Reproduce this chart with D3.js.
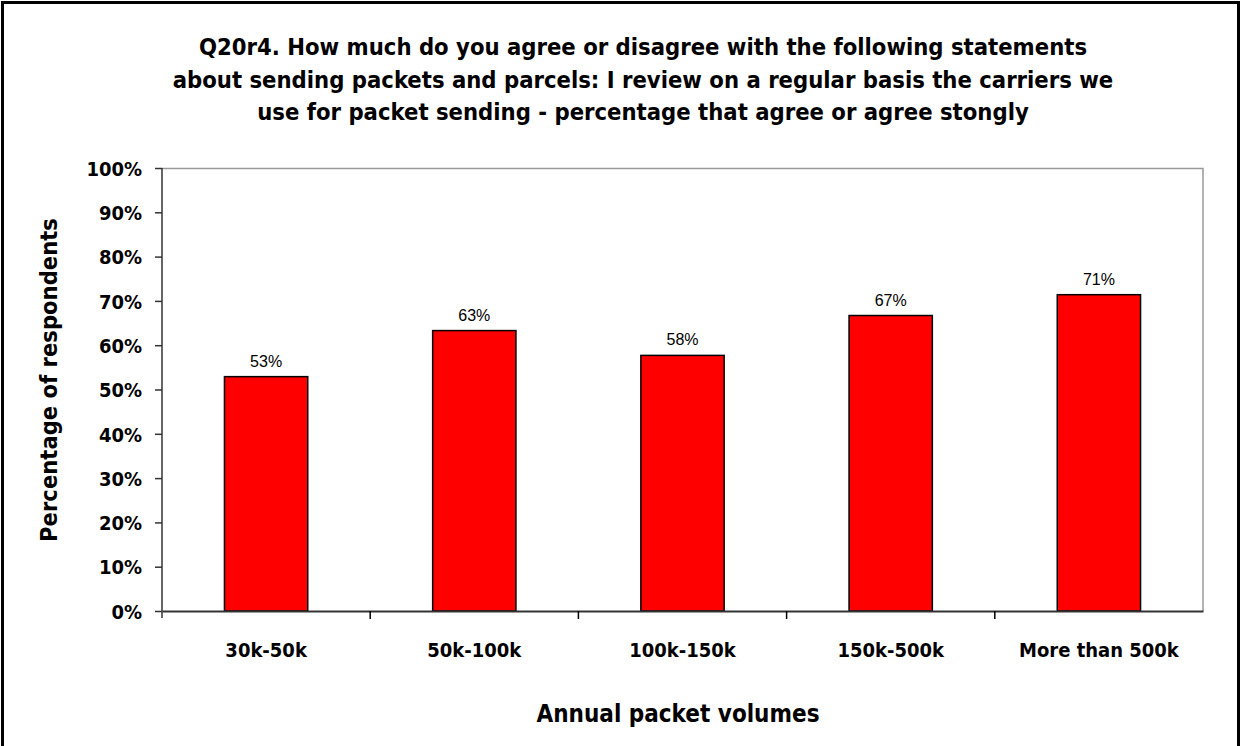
<!DOCTYPE html>
<html>
<head>
<meta charset="utf-8">
<script src="https://cdn.jsdelivr.net/npm/d3@7"></script>
<style>
  body { margin: 0; background: #fff; }
  svg text { fill: #000; }
  .bold { font-family: "DejaVu Sans Condensed", "DejaVu Sans", sans-serif; font-weight: bold; font-stretch: condensed; }
</style>
</head>
<body>
<div id="chart-area"></div>
<script>
const categories = ["30k-50k", "50k-100k", "100k-150k", "150k-500k", "More than 500k"]
const values = [52.9, 63.3, 57.7, 66.7, 71.4]
const yTicks = [0, 10, 20, 30, 40, 50, 60, 70, 80, 90, 100]
const titleLines = [
  "Q20r4. How much do you agree or disagree with the following statements",
  "about sending packets and parcels: I review on a regular basis the carriers we",
  "use for packet sending - percentage that agree or agree stongly"
]

const W = 1242, H = 746
const MARGIN = { LEFT: 162, RIGHT: 39, TOP: 168, BOTTOM: 135 }
const WIDTH = W - MARGIN.LEFT - MARGIN.RIGHT
const HEIGHT = H - MARGIN.TOP - MARGIN.BOTTOM

const svg = d3.select("#chart-area").append("svg")
  .attr("width", W)
  .attr("height", H)

// outer frame
svg.append("path")
  .attr("d", `M2.5,${H} V2.5 H1238.5 V${H}`)
  .attr("fill", "none")
  .attr("stroke", "#000")
  .attr("stroke-width", 3)

// title
svg.append("text")
  .attr("class", "bold")
  .attr("text-anchor", "middle")
  .attr("font-size", 23.6)
  .selectAll("tspan")
  .data(titleLines)
  .enter().append("tspan")
  .attr("x", 643)
  .attr("y", (d, i) => 55 + i * 32.5)
  .text(d => d)

const g = svg.append("g")
  .attr("transform", `translate(${MARGIN.LEFT},${MARGIN.TOP})`)

const x = d3.scaleBand()
  .domain(categories)
  .range([0, WIDTH])
  .paddingInner(0.6)
  .paddingOuter(0.3)

const xCat = d3.scaleBand()
  .domain(categories)
  .range([0, WIDTH])

const y = d3.scaleLinear()
  .domain([0, 100])
  .range([HEIGHT, 0])

// plot border (top/right)
g.append("path")
  .attr("d", `M0,0.5 H${WIDTH} V${HEIGHT}`)
  .attr("fill", "none")
  .attr("stroke", "#999")
  .attr("stroke-width", 1.5)

// bars
g.selectAll("rect.bar")
  .data(values)
  .enter().append("rect")
  .attr("class", "bar")
  .attr("x", (d, i) => x(categories[i]))
  .attr("y", d => y(d))
  .attr("width", x.bandwidth())
  .attr("height", d => HEIGHT - y(d))
  .attr("fill", "#ff0000")
  .attr("stroke", "#000")
  .attr("stroke-width", 1.5)

// value labels
g.selectAll("text.val")
  .data(values)
  .enter().append("text")
  .attr("class", "val")
  .attr("x", (d, i) => x(categories[i]) + x.bandwidth() / 2)
  .attr("y", d => y(d) - 10)
  .attr("text-anchor", "middle")
  .attr("font-family", "Liberation Sans, Arial, sans-serif")
  .attr("font-size", 16)
  .text(d => Math.round(d) + "%")

// y axis
const yAxis = d3.axisLeft(y)
  .tickValues(yTicks)
  .tickSize(7)
  .tickFormat(d => d + "%")
const yg = g.append("g").call(yAxis)
yg.select(".domain").attr("d", `M0,0 V${HEIGHT + 7}`).attr("stroke", "#333").attr("stroke-width", 1.5)
yg.selectAll(".tick line").attr("stroke", "#333").attr("stroke-width", 1.5)
yg.selectAll(".tick text")
  .attr("class", "bold")
  .attr("font-size", 20)
  .attr("x", -20)
  .attr("dy", "0.36em")

// x axis
const xAxis = d3.axisBottom(xCat).tickSize(0).tickSizeOuter(0)
const xg = g.append("g").attr("transform", `translate(0,${HEIGHT})`).call(xAxis)
xg.select(".domain").attr("stroke", "#333").attr("stroke-width", 2)
xg.selectAll(".tick text")
  .attr("class", "bold")
  .attr("font-size", 20)
  .attr("y", 46)
  .attr("dy", 0)

// category separator ticks
g.selectAll("line.sep")
  .data(categories.slice(1))
  .enter().append("line")
  .attr("class", "sep")
  .attr("x1", d => xCat(d))
  .attr("x2", d => xCat(d))
  .attr("y1", HEIGHT)
  .attr("y2", HEIGHT + 8)
  .attr("stroke", "#000")
  .attr("stroke-width", 1.5)

// axis titles
svg.append("text")
  .attr("class", "bold")
  .attr("text-anchor", "middle")
  .attr("font-size", 24)
  .attr("x", 678)
  .attr("y", 722)
  .text("Annual packet volumes")

svg.append("text")
  .attr("class", "bold")
  .attr("text-anchor", "middle")
  .attr("font-size", 23.5)
  .attr("transform", "translate(57,380) rotate(-90)")
  .text("Percentage of respondents")
</script>
</body>
</html>
